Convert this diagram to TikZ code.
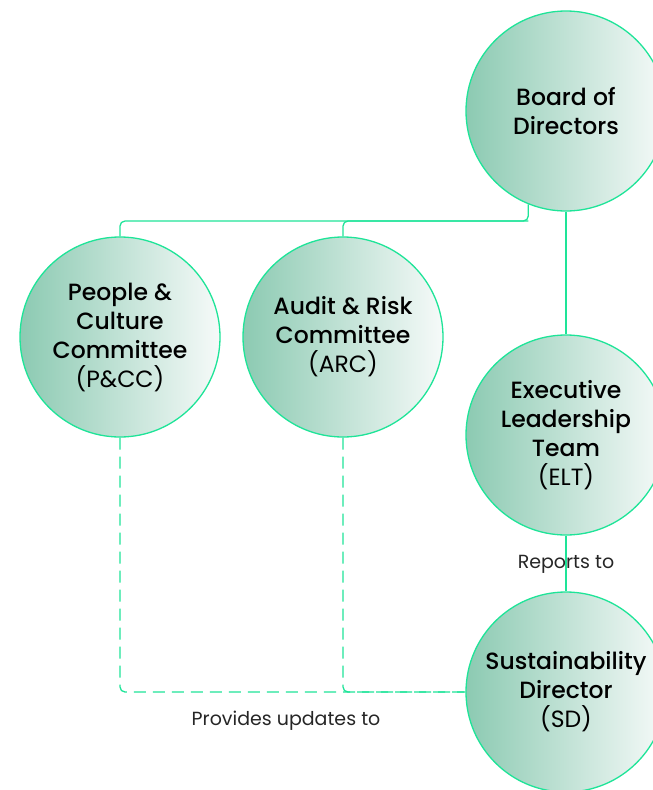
\documentclass[tikz,border=0pt]{standalone}
\usepackage{fontspec}
\setmainfont{Poppins}[BoldFont={Poppins Medium}]
\definecolor{lg}{RGB}{30,228,152}
\definecolor{gl}{RGB}{140,202,178}
\definecolor{gr}{RGB}{246,250,249}
\tikzset{
  org/.style={circle, draw=lg, line width=1.3pt, minimum size=200pt, inner sep=0pt,
    left color=gl, right color=gr, align=center, font=\fontsize{23.5}{29}\selectfont},
  conn/.style={draw=lg, line width=1.3pt, rounded corners=5pt},
  dconn/.style={conn, dash pattern=on 12pt off 7pt},
  lbl/.style={font=\fontsize{19}{22}\selectfont, text=black!85}
}
\begin{document}
\begin{tikzpicture}[x=1pt,y=-1pt]
\useasboundingbox (0,0) rectangle (653,790);
\clip (0,0) rectangle (653,790);
\node[org] (board) at (566,111) {\bfseries Board of\\\bfseries Directors};
\node[org] (pcc) at (120,337) {\bfseries People \&\\\bfseries Culture\\\bfseries Committee\\(P\&CC)};
\node[org] (arc) at (343,337) {\bfseries Audit \& Risk\\\bfseries Committee\\(ARC)};
\node[org] (elt) at (566,435) {\bfseries Executive\\\bfseries Leadership\\\bfseries Team\\(ELT)};
\node[org] (sd) at (566,692) {\bfseries Sustainability\\\bfseries Director\\(SD)};
\coordinate (bj) at (board.-112);
\coordinate (hz) at (0,221);
\draw[conn] (bj) -- (bj |- hz) -- (pcc.north |- hz) -- (pcc.north);
\draw[conn] (bj |- hz) -- (arc.north |- hz) -- (arc.north);
\draw[conn] (board.south) -- (elt.north);
\draw[conn] (elt.south) -- (sd.north);
\draw[dconn] (pcc.south) |- (sd.west);
\draw[dconn] (arc.south) |- (sd.west);
\node[lbl] (rep) at (566,564) {Reports to};
\node[lbl] (prov) at (286,721) {Provides updates to};
\end{tikzpicture}
\end{document}
